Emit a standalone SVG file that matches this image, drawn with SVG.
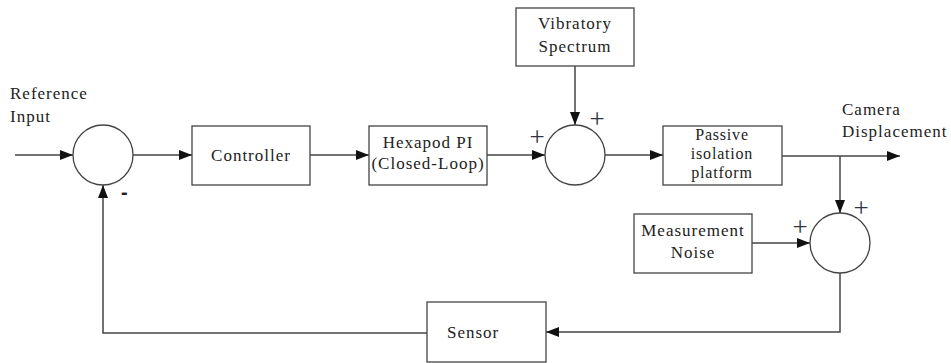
<svg xmlns="http://www.w3.org/2000/svg" width="951" height="363" viewBox="0 0 951 363">
<defs>
<marker id="ah" markerUnits="userSpaceOnUse" markerWidth="14" markerHeight="10" refX="13" refY="5" orient="auto">
<path d="M0,0 L13,5 L0,10 Z" fill="#111"/>
</marker>
<style>
.box{fill:#fff;stroke:#444;stroke-width:1.3}
.sum{fill:#fff;stroke:#444;stroke-width:1.3}
.t{font-family:"Liberation Serif","DejaVu Serif",serif;font-size:17px;letter-spacing:1px;fill:#222}
.s{font-size:16px;letter-spacing:0.8px}
.c{text-anchor:middle}
.w{fill:none;stroke:#444;stroke-width:1.5}
.sg{font-family:"Liberation Serif","DejaVu Serif",serif;font-size:27px;fill:#334}
.mn{font-family:"Liberation Sans",sans-serif;font-size:20px;font-weight:bold;fill:#222}
</style>
</defs>
<rect width="951" height="363" fill="#fff"/>
<g id="connectors">
<line class="w" x1="15" y1="155" x2="73" y2="155" marker-end="url(#ah)"/>
<line class="w" x1="133" y1="155" x2="192" y2="155" marker-end="url(#ah)"/>
<line class="w" x1="310" y1="155" x2="369" y2="155" marker-end="url(#ah)"/>
<line class="w" x1="487" y1="155" x2="545" y2="155" marker-end="url(#ah)"/>
<line class="w" x1="575" y1="66" x2="575" y2="125" marker-end="url(#ah)"/>
<line class="w" x1="605" y1="155" x2="663" y2="155" marker-end="url(#ah)"/>
<line class="w" x1="782" y1="156" x2="900" y2="156" marker-end="url(#ah)"/>
<line class="w" x1="840" y1="156" x2="840" y2="213" marker-end="url(#ah)"/>
<line class="w" x1="752" y1="243" x2="810" y2="243" marker-end="url(#ah)"/>
<polyline class="w" points="840,273 840,332 546,332" marker-end="url(#ah)"/>
<polyline class="w" points="427,333 103,333 103,185" marker-end="url(#ah)"/>
</g>
<g id="ref-input">
<text class="t" x="10" y="99">Reference</text>
<text class="t" x="10" y="122">Input</text>
</g>
<g id="sum1">
<circle class="sum" cx="103" cy="155" r="30"/>
<text class="mn" x="121" y="199">-</text>
</g>
<g id="controller">
<rect class="box" x="192" y="126" width="118" height="59"/>
<text class="t c" x="251" y="161">Controller</text>
</g>
<g id="hexapod">
<rect class="box" x="369" y="126" width="118" height="59"/>
<text class="t c" x="428" y="148">Hexapod PI</text>
<text class="t c" x="428" y="169">(Closed-Loop)</text>
</g>
<g id="vibratory">
<rect class="box" x="516" y="8" width="118" height="58"/>
<text class="t c" x="575" y="29">Vibratory</text>
<text class="t c" x="575" y="52">Spectrum</text>
</g>
<g id="sum2">
<circle class="sum" cx="575" cy="155" r="30"/>
<text class="sg c" x="537" y="146">+</text>
<text class="sg c" x="597" y="128">+</text>
</g>
<g id="passive">
<rect class="box" x="663" y="126" width="119" height="59"/>
<text class="t s c" x="722" y="140">Passive</text>
<text class="t s c" x="722" y="159">isolation</text>
<text class="t s c" x="722" y="178">platform</text>
</g>
<g id="camera">
<text class="t" x="842" y="115">Camera</text>
<text class="t" x="842" y="137">Displacement</text>
</g>
<g id="noise">
<rect class="box" x="634" y="214" width="118" height="59"/>
<text class="t c" x="693" y="236">Measurement</text>
<text class="t c" x="693" y="258">Noise</text>
</g>
<g id="sum3">
<circle class="sum" cx="840" cy="243" r="30"/>
<text class="sg c" x="800" y="236">+</text>
<text class="sg c" x="861" y="217">+</text>
</g>
<g id="sensor">
<rect class="box" x="427" y="302" width="119" height="60"/>
<text class="t" x="447" y="338">Sensor</text>
</g>
</svg>
